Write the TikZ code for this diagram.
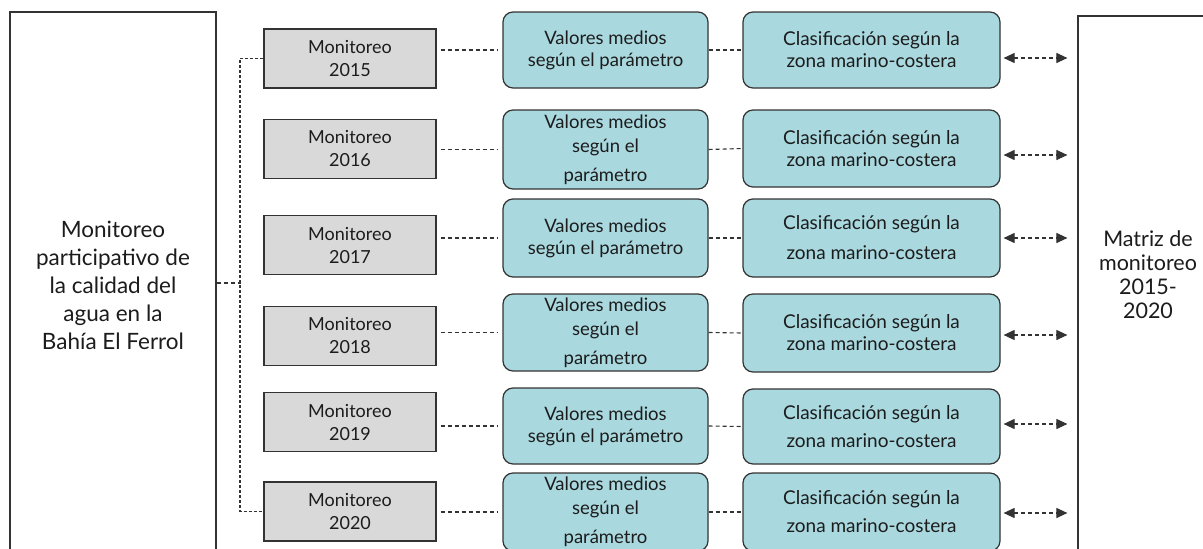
\documentclass[tikz,border=0pt]{standalone}
\usepackage{fontspec}
\setmainfont{Lato}
\usetikzlibrary{arrows.meta}

\definecolor{boxgray}{HTML}{D9D9D9}
\definecolor{boxblue}{HTML}{A9D8DF}
\definecolor{linegray}{HTML}{333333}
\definecolor{txtgray}{HTML}{1C1C1C}

\begin{document}
\begin{tikzpicture}[
            x=1pt, y=-1pt,
            outer/.style={rectangle, draw=linegray, line width=1.2pt, fill=white, inner sep=0pt, align=center, text=txtgray, font=\fontsize{22.5}{28}\selectfont},
            mon/.style={rectangle, draw=linegray, line width=1.2pt, fill=boxgray, minimum width=172pt, minimum height=59pt, inner sep=0pt, align=center, text=txtgray, font=\fontsize{18}{23}\selectfont},
            val/.style={rectangle, rounded corners=10pt, draw=linegray, line width=1.2pt, fill=boxblue, minimum width=205pt, inner sep=0pt, align=center, text=txtgray, font=\fontsize{18.5}{22}\selectfont},
            val3/.style={val, font=\fontsize{18.5}{24}\selectfont},
            cls/.style={val, minimum width=257pt, font=\fontsize{19}{22}\selectfont},
            lnk/.style={draw=linegray, line width=1.1pt, dash pattern=on 4pt off 3pt},
            trunk/.style={lnk, dash pattern=on 3pt off 2pt},
            dbl/.style={lnk, {Triangle[length=11pt,width=10pt]}-{Triangle[length=11pt,width=10pt]}}
        ]
        \useasboundingbox (0,0) rectangle (1203,549);
        \clip (0,0) rectangle (1203,549);

        % outer boxes
        \node[outer, minimum width=206pt, minimum height=546pt] (bay) at (113,285)
            {Monitoreo\\participativo de\\la calidad del\\agua en la\\Bahía El Ferrol};
        \node[outer, minimum width=140pt, minimum height=544pt,
            label={[name=matlbl, align=center, text=txtgray, font=\fontsize{21.5}{24}\selectfont, yshift=13pt]center:Matriz de\\monitoreo\\2015-\\2020}] (mat) at (1148,288) {};

        % monitoring years
        \node[mon] (m15) at (350,58.5)  {Monitoreo\\2015};
        \node[mon] (m16) at (350,149)   {Monitoreo\\2016};
        \node[mon] (m17) at (350,245)   {Monitoreo\\2017};
        \node[mon] (m18) at (350,336)   {Monitoreo\\2018};
        \node[mon] (m19) at (350,422)   {Monitoreo\\2019};
        \node[mon] (m20) at (350,511.5) {Monitoreo\\2020};

        % mean values
        \node[val,  minimum height=76pt] (v15) at (605.5,50)    {Valores medios\\según el parámetro};
        \node[val3, minimum height=79pt] (v16) at (605.5,149.5) {Valores medios\\según el\\[5pt]parámetro};
        \node[val,  minimum height=78pt] (v17) at (605.5,238)   {Valores medios\\según el parámetro};
        \node[val3, minimum height=77pt] (v18) at (605.5,332.5) {Valores medios\\según el\\[5pt]parámetro};
        \node[val,  minimum height=76pt] (v19) at (605.5,426)   {Valores medios\\según el parámetro};
        \node[val3, minimum height=78pt] (v20) at (605.5,512)   {Valores medios\\según el\\[5pt]parámetro};

        % classification
        \node[cls, minimum height=76pt] (c15) at (871.5,50)    {Clasificación según la\\zona marino-costera};
        \node[cls, minimum height=77pt] (c16) at (871.5,148.5) {Clasificación según la\\zona marino-costera};
        \node[cls, minimum height=78pt] (c17) at (871.5,238)   {Clasificación según la\\[8pt]zona marino-costera};
        \node[cls, minimum height=78pt] (c18) at (871.5,333)   {Clasificación según la\\zona marino-costera};
        \node[cls, minimum height=75pt] (c19) at (871.5,426.5) {Clasificación según la\\[6pt]zona marino-costera};
        \node[cls, minimum height=78pt] (c20) at (871.5,512)   {Clasificación según la\\[6pt]zona marino-costera};

        % tree
        \coordinate (jn) at (240,283);
        \draw[lnk] (bay.east |- jn) -- (jn);
        \draw[trunk] (m15.west) -| (jn) |- (m20.west);

        % years to values
        \draw[lnk, shorten <=4pt, shorten >=4pt] (v15.west -| m15.east) -- (v15.west);
        \draw[lnk, shorten <=4pt, shorten >=4pt] (v16.west -| m16.east) -- (v16.west);
        \draw[lnk, shorten <=4pt, shorten >=4pt] (v17.west -| m17.east) -- (v17.west);
        \draw[lnk, shorten <=4pt, shorten >=4pt] (v18.west -| m18.east) -- (v18.west);
        \draw[lnk, shorten <=4pt, shorten >=4pt] (v19.west -| m19.east) -- (v19.west);
        \draw[lnk, shorten <=4pt, shorten >=4pt] (v20.west -| m20.east) -- (v20.west);

        % values to classes
        \draw[lnk] (v15.east) -- (c15.west);
        \draw[lnk] (v16.east) -- (c16.west);
        \draw[lnk] (v17.east) -- (c17.west);
        \draw[lnk] (v18.east) -- (c18.west);
        \draw[lnk] (v19.east) -- (c19.west);
        \draw[lnk] (v20.east) -- (c20.west);

        % classes to matrix
        \draw[dbl] ([shift={(3,8)}]c15.east) -- ([shift={(-10,8)}]c15.east -| mat.west);
        \draw[dbl] ([shift={(3,6.5)}]c16.east) -- ([shift={(-10,6.5)}]c16.east -| mat.west);
        \draw[dbl] ([shift={(3,0)}]c17.east) -- ([shift={(-10,0)}]c17.east -| mat.west);
        \draw[dbl] ([shift={(3,2)}]c18.east) -- ([shift={(-10,2)}]c18.east -| mat.west);
        \draw[dbl] ([shift={(3,-2.5)}]c19.east) -- ([shift={(-10,-2.5)}]c19.east -| mat.west);
        \draw[dbl] ([shift={(3,1)}]c20.east) -- ([shift={(-10,1)}]c20.east -| mat.west);
    \end{tikzpicture}
\end{document}
